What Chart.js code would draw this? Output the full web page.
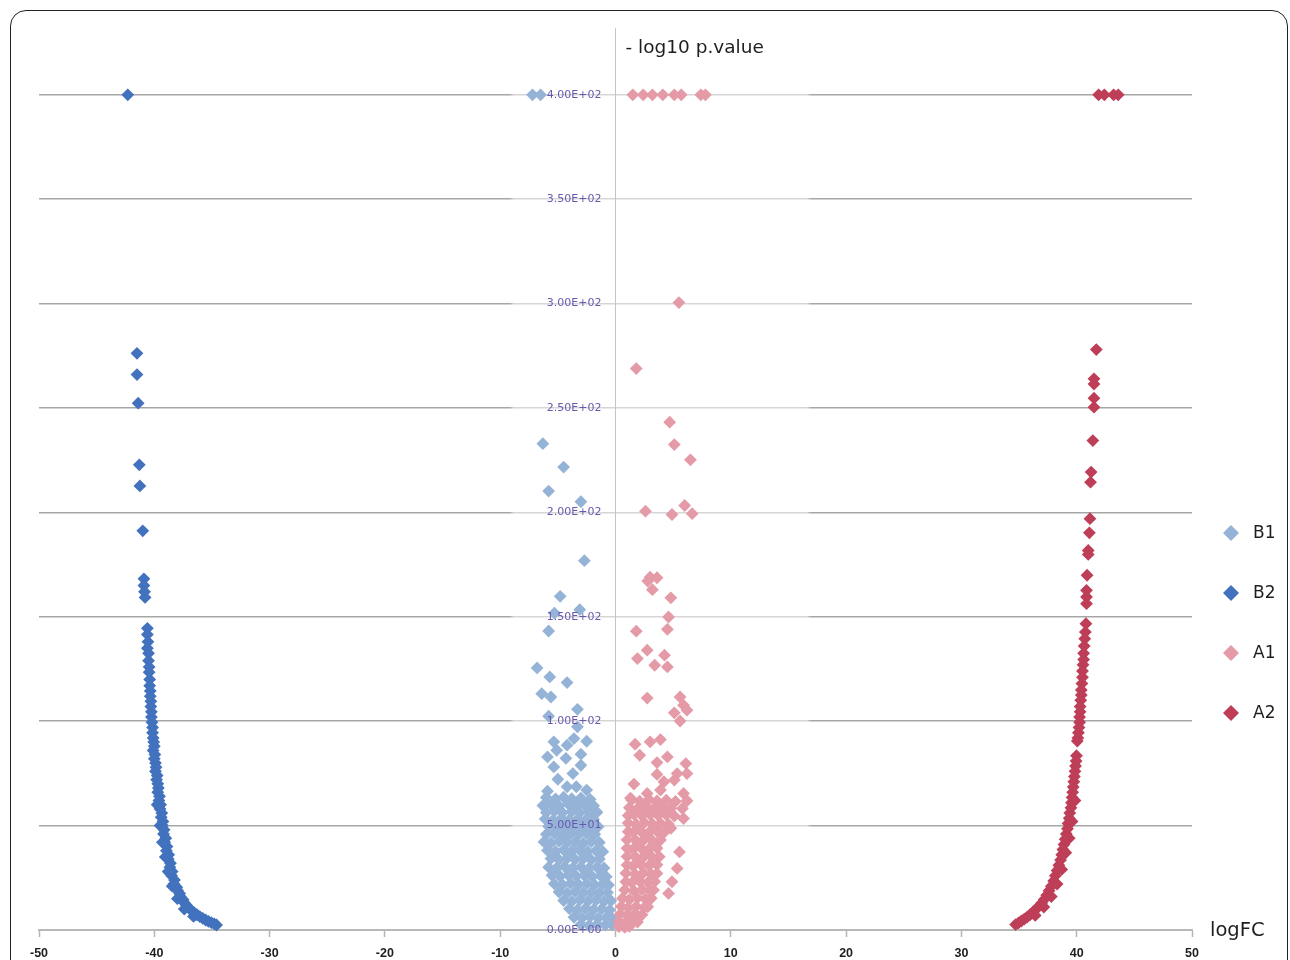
<!DOCTYPE html>
<html>
<head>
<meta charset="utf-8">
<script src="https://cdn.jsdelivr.net/npm/chart.js@4/dist/chart.umd.min.js"></script>
<style>
  html, body { margin: 0; padding: 0; background: #fff; overflow: hidden; }
  #frame { position: absolute; left: 10px; top: 10px; width: 1276px; height: 1000px;
           border: 1.5px solid #222; border-radius: 16px; }
  #chart { position: absolute; left: 0; top: 0; }
</style>
</head>
<body>
<div id="frame"></div>
<canvas id="chart" width="1290" height="960"></canvas>
<script>
// series names and colours, in legend order
const seriesNames = ["B1", "B2", "A1", "A2"];
const seriesColors = ["#95b3d7", "#4272be", "#e49aa7", "#be3e58"];

// x tick labels run -50..50, y ticks 0..400 by 50
const xTickValues = [-50, -40, -30, -20, -10, 0, 10, 20, 30, 40, 50];
const yTickValues = [0, 50, 100, 150, 200, 250, 300, 350, 400];

// [logFC, -log10 p]
const b1Points = [
  [-7.2,400],[-6.5,400],
  [-6.3,232.9],[-4.5,221.7],[-5.8,210.2],[-3.0,205.1],[-2.7,176.9],[-4.8,159.8],[-3.1,153.4],[-5.3,151.8],[-5.8,143.2],
  [-6.8,125.5],[-5.7,121.2],[-4.2,118.5],[-6.4,113.2],[-5.6,111.6],[-3.3,105.7],[-5.8,102.4],[-3.3,97.3],[-5.35,90.1],
  [-3.6,91.7],[-2.5,90.4],[-4.2,88.5],[-5.9,82.9],[-5.1,86.1],[-3.0,84.2],[-4.3,82.2],[-5.35,78.1],[-3.0,78.9],[-3.7,74.9],
  [-5.0,72.2],[-5.9,66.5],[-4.2,68.6],[-3.4,68.6],[-2.5,67.0],
  [-6.0,63.5],[-5.2,62.8],[-4.5,63.6],[-3.8,62.9],[-3.0,63.2],[-2.2,62.6],
  [-6.3,59.6],[-5.6,60.2],[-4.9,59.4],[-4.1,60.3],[-3.4,59.8],[-2.7,60.1],[-1.9,59.5],
  [-6.0,56.3],[-5.3,56.9],[-4.6,56.2],[-3.8,56.7],[-3.1,56.1],[-2.3,56.6],[-1.6,56.4],
  [-6.1,53.2],[-5.4,52.7],[-4.7,53.4],[-4.0,52.8],[-3.3,53.1],[-2.6,52.6],[-1.9,53.0],
  [-5.8,49.6],[-5.0,49.2],[-4.3,49.8],[-3.6,49.3],[-2.9,49.7],[-2.2,49.1],[-1.5,49.5],
  [-6.0,45.8],[-5.3,46.3],[-4.6,45.6],[-3.9,46.1],[-3.2,45.7],[-2.5,46.2],[-1.8,45.9],
  [-6.2,42.2],[-5.6,41.7],[-4.9,42.4],[-4.2,41.8],[-3.5,42.1],[-2.8,41.6],[-2.1,42.3],[-1.4,41.9],
  [-5.9,38.1],[-5.2,37.6],[-4.5,38.3],[-3.8,37.8],[-3.1,38.2],[-2.4,37.7],[-1.7,38.0],[-1.1,37.5],
  [-5.6,34.2],[-4.9,33.7],[-4.2,34.3],[-3.5,33.8],[-2.8,34.1],[-2.1,33.6],[-1.4,34.0],
  [-5.8,30.1],[-5.1,29.7],[-4.4,30.3],[-3.7,29.8],[-3.0,30.2],[-2.3,29.6],[-1.6,30.0],[-1.0,29.7],
  [-5.5,26.2],[-4.8,25.7],[-4.1,26.3],[-3.4,25.8],[-2.7,26.1],[-2.0,25.6],[-1.3,26.0],[-0.8,25.5],
  [-5.3,22.1],[-4.6,21.7],[-3.9,22.3],[-3.2,21.8],[-2.5,22.2],[-1.8,21.6],[-1.1,22.0],[-0.6,21.5],
  [-4.9,18.2],[-4.2,17.7],[-3.5,18.3],[-2.8,17.8],[-2.1,18.1],[-1.4,17.6],[-0.7,18.0],
  [-4.5,14.1],[-3.8,13.7],[-3.1,14.3],[-2.4,13.8],[-1.7,14.2],[-1.0,13.6],[-0.4,14.0],
  [-4.0,10.2],[-3.3,9.7],[-2.6,10.3],[-1.9,9.8],[-1.2,10.1],[-0.5,9.6],
  [-3.6,6.1],[-2.9,5.8],[-2.2,6.3],[-1.5,5.7],[-0.8,6.0],[-0.3,5.5],
  [-3.0,2.6],[-2.3,2.2],[-1.6,2.7],[-0.9,2.3],[-0.3,2.5]
];

const b2Points = [
  [-42.3,400],
  [-41.5,276.2],[-41.5,266],[-41.4,252.3],[-41.3,222.8],[-41.25,212.7],[-41.0,191.2],
  [-40.9,168.2],[-40.9,165],[-40.85,162],[-40.8,159.3],
  [-40.6,144.5],[-40.6,141.5],[-40.55,138],[-40.6,135],[-40.5,132.5],[-40.5,129],[-40.45,126],[-40.45,123.5],
  [-40.4,120],[-40.4,117],[-40.35,114.5],[-40.35,112],[-40.3,109.5],[-40.3,107],[-40.25,104.5],[-40.25,102],
  [-40.2,99.5],[-40.15,97],[-40.15,94.5],[-40.1,92],[-40.05,90],[-40.0,88],[-40.1,86],[-39.95,84],[-40.0,82],
  [-39.9,80],[-39.85,78],[-39.9,76],[-39.75,74],[-39.8,72],[-39.7,70],[-39.65,68],[-39.7,66],[-39.55,64],
  [-39.6,62],[-39.45,60],[-39.5,58],[-39.35,56],[-39.4,54],[-39.25,52],[-39.3,50],[-39.15,48],[-39.2,46],
  [-39.0,44],[-39.1,42],[-38.9,40],[-38.95,38],[-38.75,36],[-38.8,34],[-38.6,32],[-38.65,30],[-38.45,28],
  [-38.5,26],[-38.25,24],[-38.3,22],[-38.05,20.5],[-38.0,19],[-37.8,17.5],[-37.75,16],[-37.5,14.5],[-37.4,13],
  [-37.2,11.8],[-37.0,10.5],[-36.8,9.4],[-36.55,8.3],[-36.3,7.3],[-36.05,6.4],[-35.8,5.6],[-35.55,4.8],
  [-35.3,4.1],[-35.05,3.5],[-34.8,2.9],[-34.6,2.4],
  [-39.75,60],[-39.5,50],[-39.3,42],[-39.05,35],[-38.8,28],[-38.45,21],[-38.0,15],[-37.4,10],[-36.6,6.5]
];

const a1Points = [
  [1.5,400],[2.4,400],[3.2,400],[4.1,400],[5.1,400],[5.7,400],[7.4,400],[7.8,400],
  [5.5,300.5],[1.8,268.9],[4.7,243.2],[5.1,232.5],[6.5,225.2],[6.0,203.3],[6.65,199.4],[2.6,200.6],[4.9,199.0],
  [3.0,169.0],[3.6,168.7],[2.8,167.1],[3.2,163.0],[4.8,159.1],[4.6,149.9],[4.5,144.0],[1.8,143.1],
  [2.75,134.0],[1.9,130.0],[4.25,131.6],[3.4,126.8],[4.5,126.0],[2.75,111.1],[5.6,111.6],[5.9,107.7],[5.1,104.0],
  [6.2,105.3],[5.6,100.1],[1.7,89.0],[3.0,90.1],[3.9,91.2],[2.1,83.7],[4.5,82.9],[3.6,80.2],[6.1,79.7],[5.35,74.9],
  [3.6,74.5],[6.2,74.9],[1.6,69.9],[4.2,71.0],[5.1,71.8],[2.75,65.4],[3.9,67.0],[5.9,65.4],[1.3,63.2],[6.2,61.9],
  [5.8,58.2],[5.9,53.4],[4.8,48.7],[5.55,37.4],[5.35,29.5],[4.9,23.1],[4.6,17.5],
  [1.4,62.3],[2.1,61.7],[2.9,62.5],[3.6,61.8],[4.4,62.2],[5.2,61.6],
  [1.2,58.6],[1.9,58.1],[2.6,58.8],[3.3,58.2],[4.0,58.7],[4.8,58.3],
  [1.1,54.8],[1.6,55.4],[2.3,54.7],[3.0,55.3],[3.7,54.9],[4.4,55.2],[5.1,54.6],
  [1.1,51.2],[1.8,50.7],[2.5,51.4],[3.2,50.8],[3.9,51.1],[4.6,50.6],
  [1.1,47.1],[1.5,46.6],[2.2,47.3],[2.9,46.8],[3.6,47.2],[4.2,46.7],
  [1.0,43.2],[1.8,42.7],[2.5,43.4],[3.2,42.8],[3.9,43.1],
  [1.0,39.1],[1.5,38.6],[2.2,39.3],[2.9,38.8],[3.6,39.2],
  [1.0,35.2],[1.8,34.7],[2.5,35.3],[3.2,34.8],[3.8,35.1],
  [1.0,31.1],[1.5,30.6],[2.2,31.3],[2.9,30.8],[3.6,31.2],
  [0.9,27.2],[1.7,26.7],[2.4,27.3],[3.1,26.8],[3.6,27.1],
  [0.9,23.1],[1.4,22.6],[2.1,23.3],[2.8,22.8],[3.4,23.2],
  [0.8,19.2],[1.6,18.7],[2.3,19.3],[3.0,18.8],[3.3,19.1],
  [0.6,15.1],[1.2,14.6],[1.9,15.3],[2.6,14.8],[3.1,15.2],
  [0.5,11.2],[1.1,10.7],[1.8,11.3],[2.5,10.8],[2.8,11.1],
  [0.4,7.6],[1.0,7.2],[1.7,7.8],[2.3,7.3],
  [0.3,4.1],[0.9,3.7],[1.5,4.2],[1.9,3.8],
  [0.3,1.6],[0.8,1.3],[1.2,1.7]
];

const a2Points = [
  [41.9,400],[42.4,400],[43.2,400],[43.6,400],
  [41.7,278],[41.5,264],[41.5,261.5],[41.5,254.7],[41.5,250.4],[41.4,234.4],[41.25,219.3],[41.2,214.5],
  [41.15,197],[41.1,190.2],[41.0,181.8],[41.0,179.9],[40.9,169.9],[40.85,162.7],[40.85,159.5],[40.85,156.3],
  [40.8,146.7],[40.75,142.7],
  [40.7,139.5],[40.65,136],[40.6,132.5],[40.6,129.5],[40.55,127],[40.5,124],[40.5,121],[40.45,118],[40.4,115],
  [40.4,112.5],[40.35,110],[40.3,107],[40.3,104.5],[40.25,102],[40.25,99.5],[40.2,97],[40.15,94.5],[40.1,92],
  [40.05,90.5],
  [39.98,83.5],[39.95,81],[39.9,78.5],[39.85,76],[39.8,73.5],[39.75,71],[39.7,68.5],[39.65,66],[39.6,63.5],
  [39.55,61],[39.5,58.5],[39.4,56],[39.35,53.5],[39.25,51],[39.2,48.5],[39.1,46],[39.0,43.5],[38.9,41],
  [38.8,38.5],[38.7,36],[38.6,33.5],[38.45,31],[38.3,28.5],[38.15,26],[38.0,23.5],[37.8,21],[37.6,18.8],
  [37.4,16.7],[37.2,14.7],[36.95,12.8],[36.7,11.2],[36.45,9.8],[36.2,8.5],[35.95,7.3],[35.7,6.2],[35.45,5.2],
  [35.2,4.3],[34.95,3.4],[34.7,2.6],
  [39.85,62],[39.6,52],[39.35,44],[39.05,37],[38.7,29],[38.3,22],[37.8,16],[37.15,11],[36.4,7]
];

const seriesPoints = [b1Points, b2Points, a1Points, a2Points];

function sciLabel(v){
    if (v === 0) return "0.00E+00";
    const e = Math.floor(Math.log10(Math.abs(v)));
    const m = v / Math.pow(10, e);
    return m.toFixed(2) + "E" + (e < 0 ? "-" : "+") + String(Math.abs(e)).padStart(2, "0");
}

// gridlines are washed out in the middle band around the y axis
let gridGradient = null;
function gridColor(context){
    const chart = context.chart;
    const area = chart.chartArea;
    if (!area) return "#a8a8a8";
    if (!gridGradient) {
        const xs = chart.scales.x;
        const from = xs.getPixelForValue(-9.2);
        const to = xs.getPixelForValue(17);
        const w = area.right - area.left;
        gridGradient = chart.ctx.createLinearGradient(area.left, 0, area.right, 0);
        gridGradient.addColorStop(0, "#a6a6a6");
        gridGradient.addColorStop((from - area.left) / w, "#a6a6a6");
        gridGradient.addColorStop((from - area.left) / w + 0.004, "#d6d6d6");
        gridGradient.addColorStop((to - area.left) / w - 0.004, "#d6d6d6");
        gridGradient.addColorStop((to - area.left) / w, "#a6a6a6");
        gridGradient.addColorStop(1, "#a6a6a6");
    }
    return gridGradient;
}

// axis captions and the legend on the right
const extras = {
    id: "extras",
    afterDraw(chart){
        const ctx = chart.ctx;
        const area = chart.chartArea;
        const xs = chart.scales.x;
        const ys = chart.scales.y;
        ctx.save();
        ctx.fillStyle = "#1e1e1e";
        ctx.textBaseline = "middle";
        ctx.textAlign = "left";
        ctx.font = "18.5px 'DejaVu Sans'";
        ctx.fillText("- log10 p.value", xs.getPixelForValue(0) + 10, 48);
        ctx.font = "19.5px 'DejaVu Sans'";
        ctx.fillText("logFC", area.right + 18, ys.getPixelForValue(0) + 1);

        ctx.font = "17px 'DejaVu Sans'";
        chart.data.datasets.forEach((ds, i) => {
            const cx = area.right + 39;
            const cy = 533 + i * 60;
            ctx.fillStyle = ds.backgroundColor;
            ctx.beginPath();
            ctx.moveTo(cx - 8, cy);
            ctx.lineTo(cx, cy - 8);
            ctx.lineTo(cx + 8, cy);
            ctx.lineTo(cx, cy + 8);
            ctx.closePath();
            ctx.fill();
            ctx.fillStyle = "#1e1e1e";
            ctx.fillText(ds.label, cx + 22, cy + 1);
        });
        ctx.restore();
    }
};

const canvas = document.getElementById("chart");
new Chart(canvas, {
    type: "scatter",
    data: {
        datasets: seriesNames.map((name, i) => ({
            label: name,
            data: seriesPoints[i].map(([x, y]) => ({x: x, y: y})),
            backgroundColor: seriesColors[i],
            borderWidth: 0,
            pointStyle: "rectRot",
            pointRadius: 6.4,
            clip: false,
            order: 4 - i
        }))
    },
    options: {
        responsive: false,
        animation: false,
        events: [],
        layout: { padding: { left: 39, top: 28, right: 98, bottom: 30 } },
        plugins: { legend: { display: false }, tooltip: { enabled: false } },
        scales: {
            x: {
                type: "linear",
                position: { y: 0 },
                min: -50,
                max: 50,
                afterBuildTicks: scale => { scale.ticks = xTickValues.map(v => ({value: v})); },
                grid: { drawOnChartArea: false, drawTicks: true, tickLength: 6, tickColor: "#b5b5b5", tickWidth: 1.5 },
                border: { color: "#b8b8b8", width: 2 },
                ticks: {
                    color: "#1e1e1e",
                    font: { family: "'Liberation Sans'", size: 12.5, weight: "bold" },
                    padding: 10,
                    maxRotation: 0
                }
            },
            y: {
                type: "linear",
                position: { x: 0 },
                min: 0,
                max: 432,
                afterBuildTicks: scale => { scale.ticks = yTickValues.map(v => ({value: v})); },
                grid: { color: gridColor, lineWidth: 1.5, drawTicks: false },
                border: { color: "#c4c4c4", width: 1 },
                ticks: {
                    z: 1,
                    color: "#6a58b0",
                    font: { family: "'DejaVu Sans'", size: 11 },
                    padding: 0,
                    // trailing gap keeps the label clear of the axis line
                    callback: v => sciLabel(v) + "    "
                }
            }
        }
    },
    plugins: [extras]
});
</script>
</body>
</html>
